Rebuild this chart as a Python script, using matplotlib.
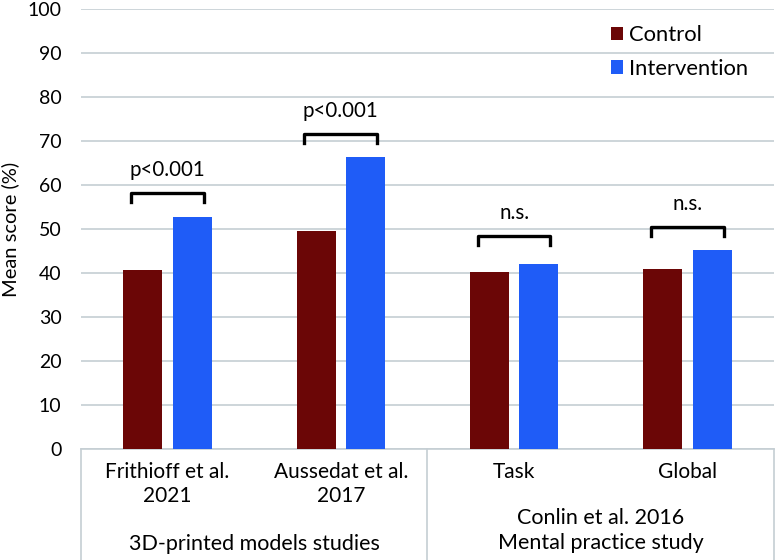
import numpy as np
import matplotlib.pyplot as plt

plt.rcParams['font.family'] = ['Lato', 'DejaVu Sans']

# data
categories = ["Frithioff et al.\n2021", "Aussedat et al.\n2017", "Task", "Global"]
control = [40.7, 49.5, 40.2, 40.9]
intervention = [52.7, 66.4, 42.0, 45.2]
sig_labels = ["p<0.001", "p<0.001", "n.s.", "n.s."]
bracket_top = [58.2, 71.6, 48.4, 50.5]
groups = ["3D-printed models studies", "Conlin et al. 2016\nMental practice study"]

ctrl_color = "#6B0606"
int_color = "#1F5CF7"
line_gray = "#c5ced3"

fig = plt.figure(figsize=(7.8, 5.6), dpi=100)
ax = fig.add_axes([0.1038, 0.198, 0.8885, 0.786])

x = np.arange(len(categories))
w = 0.225
off = 0.143
ax.bar(x - off, control, w, color=ctrl_color, label="Control", zorder=3)
ax.bar(x + off, intervention, w, color=int_color, label="Intervention", zorder=3)

# significance brackets
for i, (lab, top) in enumerate(zip(sig_labels, bracket_top)):
    xl, xr = i - 0.21, i + 0.21
    ax.plot([xl, xl, xr, xr], [top - 2.1, top, top, top - 2.1], color="black",
            lw=2.4, solid_joinstyle="round", zorder=4)
    ax.text(i, top + 3.0, lab, ha="center", va="bottom", fontsize=14.8)

ax.set_xlim(-0.5, 3.5)
ax.set_ylim(0, 100)
ax.set_yticks(range(0, 101, 10))
ax.yaxis.grid(True, color=line_gray, lw=1.2, zorder=0)
ax.tick_params(axis="y", length=0, pad=14, labelsize=14)
ax.tick_params(axis="x", length=0, pad=9, labelsize=15)
ax.set_xticks(x)
ax.set_xticklabels(categories, linespacing=1.3)
for s in ax.spines.values():
    s.set_visible(False)
ax.set_ylabel("Mean score (%)", fontsize=14.5, labelpad=6)

# grouping box under the axis
tr = ax.get_xaxis_transform()
ax.plot([-0.5, 3.5], [0, 0], color=line_gray, lw=1.2, transform=tr, clip_on=False)
for xv in [-0.5, 1.5, 3.5]:
    ax.plot([xv, xv], [0, -0.26], color=line_gray, lw=1.2, transform=tr, clip_on=False)
ax.text(0.5, -0.216, groups[0], ha="center", va="center", fontsize=15.5,
        transform=tr)
ax.text(2.5, -0.185, groups[1], ha="center", va="center", fontsize=15.5,
        linespacing=1.3, transform=tr)

leg = ax.legend(loc="upper left", bbox_to_anchor=(0.755, 0.978), frameon=False,
                fontsize=15.8, handlelength=0.55, handleheight=0.55,
                labelspacing=0.62, handletextpad=0.3, borderaxespad=0.0,
                borderpad=0.3)

fig.savefig("out.png", dpi=100)
